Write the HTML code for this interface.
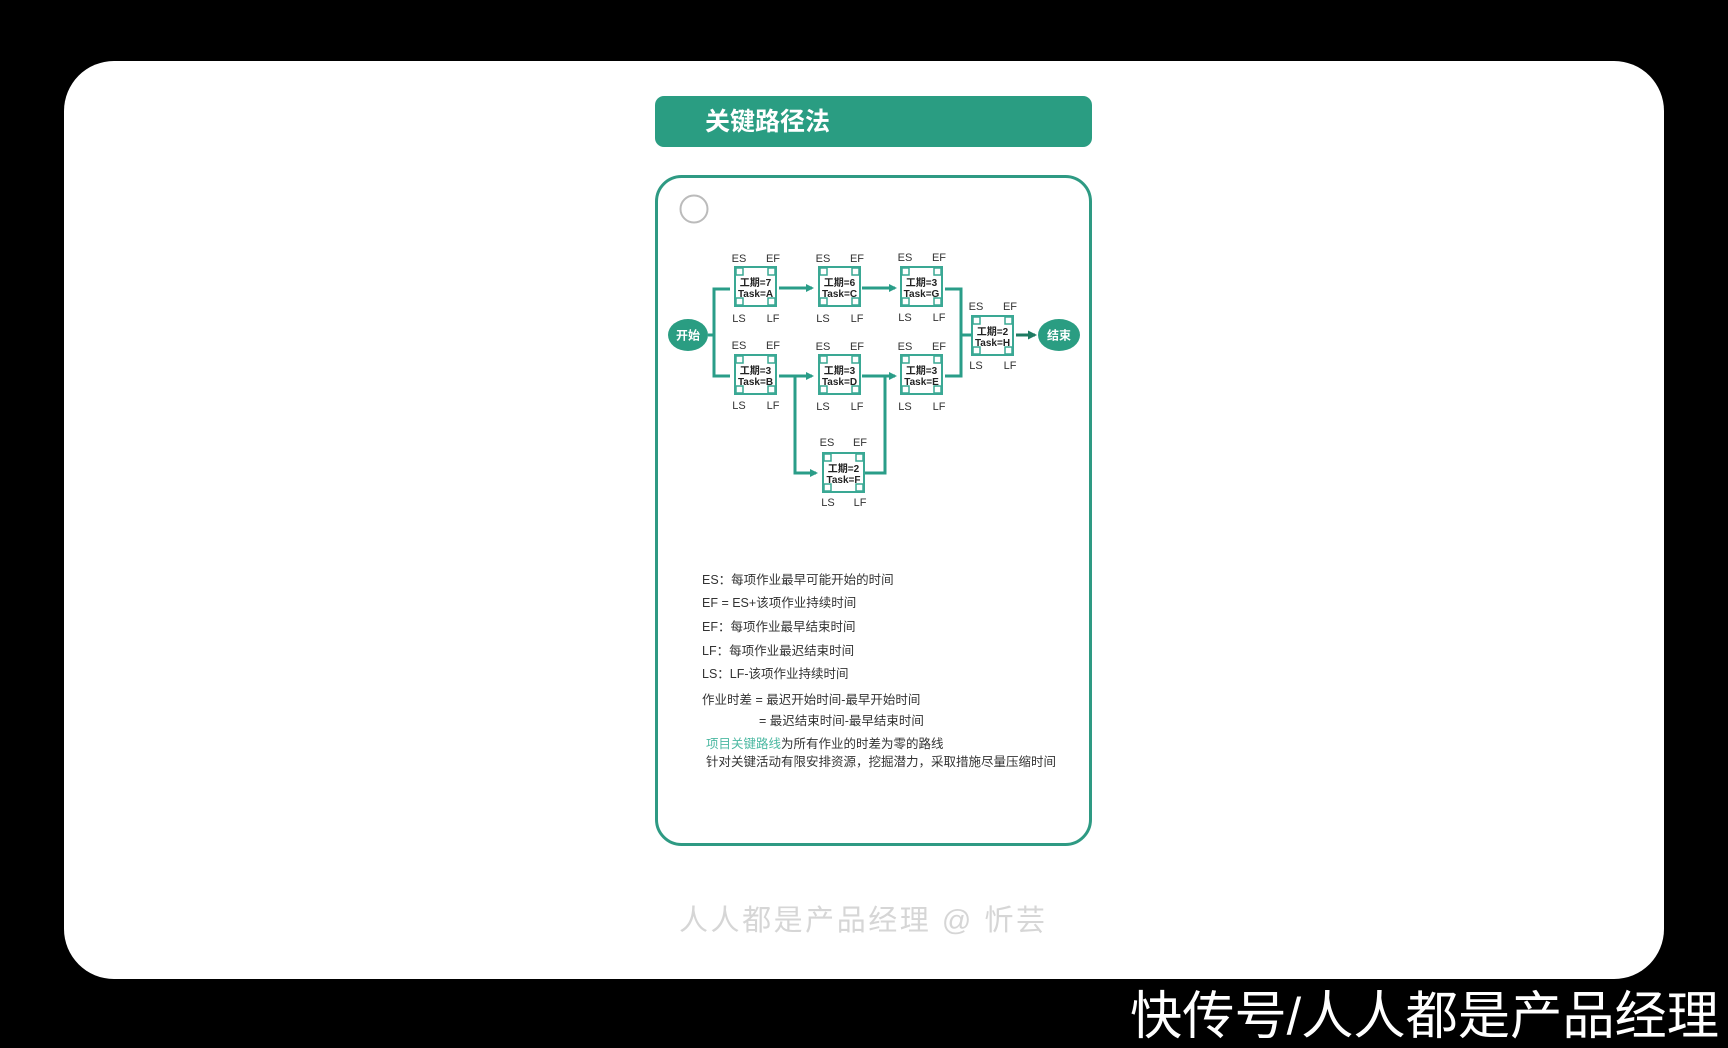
<!DOCTYPE html>
<html><head><meta charset="utf-8"><style>
html,body{margin:0;padding:0;background:#000;}
body{width:1728px;height:1048px;overflow:hidden;position:relative;font-family:"Liberation Sans","Noto Sans CJK SC",sans-serif;}
</style></head><body>
<svg width="1728" height="1048" viewBox="0 0 1728 1048" xmlns="http://www.w3.org/2000/svg" style="position:absolute;left:0;top:0">
<defs>
<marker id="ar" markerWidth="8" markerHeight="8" refX="6" refY="4" orient="auto" markerUnits="userSpaceOnUse"><path d="M0,0 L8,4 L0,8 z" fill="#2a9d88"/></marker>
<marker id="ar2" markerWidth="9" markerHeight="9" refX="7" refY="4.5" orient="auto" markerUnits="userSpaceOnUse"><path d="M0,0 L9,4.5 L0,9 z" fill="#1e7a62"/></marker>
<g id="nd">
<rect x="0" y="0" width="41" height="39" fill="#fff" stroke="#3aa894" stroke-width="2"/>
<rect x="1" y="1" width="7" height="7" fill="none" stroke="#3aa894" stroke-width="1.5"/>
<rect x="33" y="1" width="7" height="7" fill="none" stroke="#3aa894" stroke-width="1.5"/>
<rect x="1" y="31" width="7" height="7" fill="none" stroke="#3aa894" stroke-width="1.5"/>
<rect x="33" y="31" width="7" height="7" fill="none" stroke="#3aa894" stroke-width="1.5"/>
</g>
</defs>
<rect x="64" y="61" width="1600" height="918" rx="50" fill="#fff"/>
<rect x="655" y="96" width="437" height="51" rx="9" fill="#2a9d82"/>
<text x="705" y="130" font-size="25" font-weight="bold" fill="#fff" font-family="Liberation Sans,Noto Sans CJK SC,sans-serif">关键路径法</text>
<rect x="656.5" y="176.5" width="434" height="668" rx="25" fill="#fff" stroke="#2e9a83" stroke-width="3"/>
<circle cx="694" cy="209" r="13.5" fill="none" stroke="#bbb" stroke-width="2"/>

<g fill="none" stroke="#2a9d88" stroke-width="3">
<path d="M708,335 H714 M730,289 H714 V376 H730"/>
<path d="M779,288 H812" marker-end="url(#ar)"/>
<path d="M862,288 H895" marker-end="url(#ar)"/>
<path d="M945,289 H961 V376 H945 M961,335 H972"/>
<path d="M779,376 H812" marker-end="url(#ar)"/>
<path d="M795,376 V473 H816" marker-end="url(#ar)"/>
<path d="M862,376 H895" marker-end="url(#ar)"/>
<path d="M865,473 H885 V376"/>
</g>
<path d="M1016,335 H1035" stroke="#1e7a62" stroke-width="3" marker-end="url(#ar2)"/>

<ellipse cx="688" cy="335" rx="20" ry="16" fill="#2a9d82"/>
<text x="688" y="339.5" font-size="12" font-weight="bold" fill="#fff" text-anchor="middle">开始</text>
<ellipse cx="1059" cy="335" rx="21" ry="16" fill="#2a9d82"/>
<text x="1059" y="339.5" font-size="12" font-weight="bold" fill="#fff" text-anchor="middle">结束</text>

<g font-size="10" fill="#222">
<!-- node template positions -->
<use href="#nd" x="735" y="267"/><use href="#nd" x="819" y="267"/><use href="#nd" x="901" y="267"/>
<use href="#nd" x="735" y="355"/><use href="#nd" x="819" y="355"/><use href="#nd" x="901" y="355"/>
<use href="#nd" x="823" y="453"/><use href="#nd" x="972" y="316"/>
</g>
<g font-size="10" font-weight="bold" fill="#222" text-anchor="middle">
<text x="755.5" y="286">工期=7</text><text x="755.5" y="297">Task=A</text>
<text x="839.5" y="286">工期=6</text><text x="839.5" y="297">Task=C</text>
<text x="921.5" y="286">工期=3</text><text x="921.5" y="297">Task=G</text>
<text x="755.5" y="374">工期=3</text><text x="755.5" y="385">Task=B</text>
<text x="839.5" y="374">工期=3</text><text x="839.5" y="385">Task=D</text>
<text x="921.5" y="374">工期=3</text><text x="921.5" y="385">Task=E</text>
<text x="843.5" y="472">工期=2</text><text x="843.5" y="483">Task=F</text>
<text x="992.5" y="335">工期=2</text><text x="992.5" y="346">Task=H</text>
</g>
<g font-size="11" fill="#333" text-anchor="middle">
<text x="739" y="262">ES</text><text x="773" y="262">EF</text><text x="739" y="322">LS</text><text x="773" y="322">LF</text>
<text x="823" y="262">ES</text><text x="857" y="262">EF</text><text x="823" y="322">LS</text><text x="857" y="322">LF</text>
<text x="905" y="261">ES</text><text x="939" y="261">EF</text><text x="905" y="321">LS</text><text x="939" y="321">LF</text>
<text x="739" y="349">ES</text><text x="773" y="349">EF</text><text x="739" y="409">LS</text><text x="773" y="409">LF</text>
<text x="823" y="350">ES</text><text x="857" y="350">EF</text><text x="823" y="410">LS</text><text x="857" y="410">LF</text>
<text x="905" y="350">ES</text><text x="939" y="350">EF</text><text x="905" y="410">LS</text><text x="939" y="410">LF</text>
<text x="827" y="446">ES</text><text x="860" y="446">EF</text><text x="828" y="506">LS</text><text x="860" y="506">LF</text>
<text x="976" y="310">ES</text><text x="1010" y="310">EF</text><text x="976" y="369">LS</text><text x="1010" y="369">LF</text>
</g>

<g font-size="12.5" fill="#333">
<text x="702" y="584">ES：每项作业最早可能开始的时间</text>
<text x="702" y="607">EF = ES+该项作业持续时间</text>
<text x="702" y="631">EF：每项作业最早结束时间</text>
<text x="702" y="655">LF：每项作业最迟结束时间</text>
<text x="702" y="678">LS：LF-该项作业持续时间</text>
<text x="702" y="704">作业时差 = 最迟开始时间-最早开始时间</text>
<text x="759" y="725">= 最迟结束时间-最早结束时间</text>
<text x="706" y="748"><tspan fill="#4cb8a2">项目关键路线</tspan>为所有作业的时差为零的路线</text>
<text x="706" y="766">针对关键活动有限安排资源，挖掘潜力，采取措施尽量压缩时间</text>
</g>

<text x="679" y="930" font-size="29" fill="#d6d6d6" textLength="366">人人都是产品经理 @ 忻芸</text>
<text x="1130" y="1034" font-size="52" fill="#fff" textLength="589" lengthAdjust="spacingAndGlyphs">快传号/人人都是产品经理</text>
</svg>
</body></html>
